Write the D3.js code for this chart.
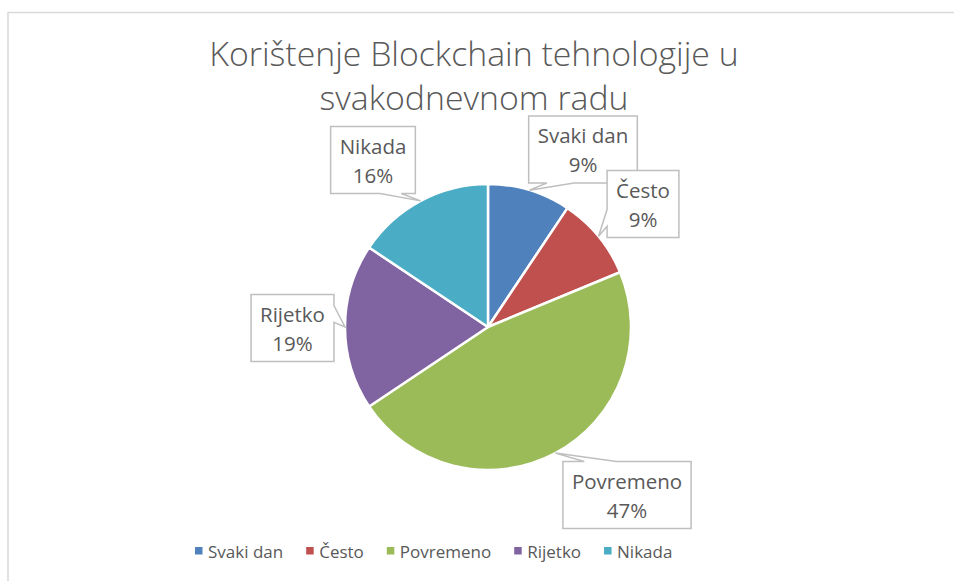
<!DOCTYPE html>
<html>
<head>
<meta charset="utf-8">
<script src="https://cdn.jsdelivr.net/npm/d3@7"></script>
<style>
  body { margin: 0; background: #fff; }
  text { font-family: "Open Sans", "Noto Sans", sans-serif; fill: #595959; }
</style>
</head>
<body>
<div id="pieChart" style="width:954px;height:581px;"></div>
<script>
// data (answers per category)
var categories = ["Svaki dan", "Često", "Povremeno", "Rijetko", "Nikada"];
var counts = [3, 3, 15, 6, 5];
var colors = ["#4F81BD", "#C0504D", "#9BBB59", "#8064A2", "#4BACC6"];
var titleLines = ["Korištenje Blockchain tehnologije u", "svakodnevnom radu"];

// where the callout boxes sit (box centres)
var labelPos = [[583, 149.5], [643, 204], [627, 495], [292.5, 328], [373, 160]];

function initPie() {
    var width = 954, height = 581;
    var center = {x: 488, y: 327};
    var radius = 143;
    var misc = {boxH: 67, pad: 9, line1: 27, line2: 56};

    var total = d3.sum(counts);
    var data = categories.map(function(c, i) {return {name: c, value: counts[i], color: colors[i]};});

    var svg = d3.select("#pieChart")
                .append("svg")
                .attr("width", width)
                .attr("height", height);

    // chart frame, cut off at the right and bottom like the screenshot
    svg.append("rect")
       .attr("x", 8)
       .attr("y", 12.5)
       .attr("width", 1000)
       .attr("height", 700)
       .attr("fill", "#fff")
       .attr("stroke", "#D9D9D9")
       .attr("stroke-width", 1.5);

    svg.selectAll("text.title")
       .data(titleLines)
       .enter()
       .append("text")
       .attr("class", "title")
       .attr("x", 474)
       .attr("y", function(d, i) {return 66 + i * 44;})
       .attr("text-anchor", "middle")
       .style("font-size", "33.8px")
       .style("font-weight", 300)
       .text(function(d) {return d;});

    var pie = d3.pie()
                .sort(null)
                .value(function(d) {return d.value;});
    var arcs = pie(data);

    var arc = d3.arc().innerRadius(0).outerRadius(radius);
    var edge = d3.arc().innerRadius(radius).outerRadius(radius);

    var plot = svg.append("g")
                  .attr("transform", "translate(" + center.x + "," + center.y + ")");

    plot.selectAll("path")
        .data(arcs)
        .enter()
        .append("path")
        .attr("d", arc)
        .attr("fill", function(d) {return d.data.color;})
        .attr("stroke", "#fff")
        .attr("stroke-width", 2.5)
        .attr("stroke-linejoin", "round");

    // callout labels
    var labels = svg.append("g");
    arcs.forEach(function(d, i) {
        var c = edge.centroid(d);
        var tip = [c[0] + center.x, c[1] + center.y];
        var g = labels.append("g");
        var box = g.append("path");
        var t1 = g.append("text")
                  .attr("text-anchor", "middle")
                  .style("font-size", "20.5px")
                  .text(d.data.name);
        var t2 = g.append("text")
                  .attr("text-anchor", "middle")
                  .style("font-size", "20.5px")
                  .text(Math.round(d.data.value / total * 100) + "%");
        var w = Math.max(t1.node().getComputedTextLength(), t2.node().getComputedTextLength()) + 2 * misc.pad;
        var h = misc.boxH;
        var cx = labelPos[i][0], cy = labelPos[i][1];
        var l = cx - w / 2, r = cx + w / 2, t = cy - h / 2, b = cy + h / 2;
        t1.attr("x", cx).attr("y", t + misc.line1);
        t2.attr("x", cx).attr("y", t + misc.line2);
        box.attr("d", callout(l, t, r, b, tip))
           .attr("fill", "#fff")
           .attr("stroke", "#BFBFBF")
           .attr("stroke-width", 1.5);
    });

    // legend
    var legend = svg.append("g")
                    .attr("transform", "translate(195,558)");
    var xPos = 0;
    data.forEach(function(d) {
        legend.append("rect")
              .attr("x", xPos)
              .attr("y", -11)
              .attr("width", 7.5)
              .attr("height", 7.5)
              .attr("fill", d.color);
        var txt = legend.append("text")
                        .attr("x", xPos + 13)
                        .attr("y", 0)
                        .style("font-size", "17px")
                        .text(d.name);
        xPos += 13 + txt.node().getComputedTextLength() + 23;
    });
}

// rectangle with a wedge tail pointing at tip (like the office wedgeRectCallout)
function callout(l, t, r, b, tip) {
    var w = r - l, h = b - t;
    var dx = tip[0] - (l + r) / 2, dy = tip[1] - (t + b) / 2;
    var dz = Math.abs(dy) - Math.abs(dx * h / w);
    var x1 = l + w * (dx > 0 ? 7 : 2) / 12, x2 = l + w * (dx > 0 ? 10 : 5) / 12;
    var y1 = t + h * (dy > 0 ? 7 : 2) / 12, y2 = t + h * (dy > 0 ? 10 : 5) / 12;
    var p = d3.path();
    var tp = tip;
    p.moveTo(l, t);
    if (dz > 0 && dy < 0) {p.lineTo(x1, t); p.lineTo(tp[0], tp[1]); p.lineTo(x2, t);}
    p.lineTo(r, t);
    if (dz <= 0 && dx > 0) {p.lineTo(r, y1); p.lineTo(tp[0], tp[1]); p.lineTo(r, y2);}
    p.lineTo(r, b);
    if (dz > 0 && dy > 0) {p.lineTo(x2, b); p.lineTo(tp[0], tp[1]); p.lineTo(x1, b);}
    p.lineTo(l, b);
    if (dz <= 0 && dx < 0) {p.lineTo(l, y2); p.lineTo(tp[0], tp[1]); p.lineTo(l, y1);}
    p.closePath();
    return p.toString();
}

initPie();
</script>
</body>
</html>
